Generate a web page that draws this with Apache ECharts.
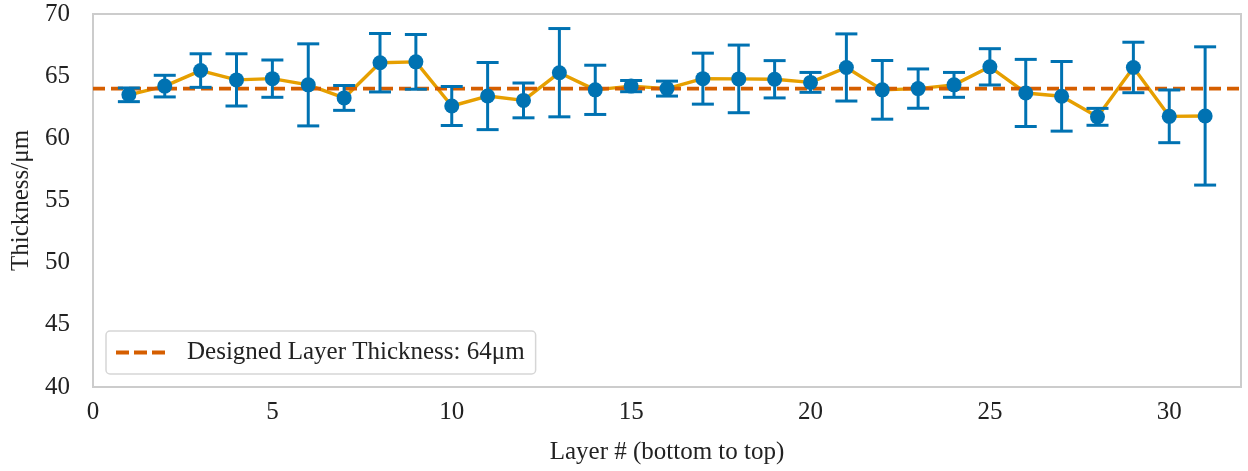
<!DOCTYPE html>
<html>
<head>
<meta charset="utf-8">
<script src="https://cdn.jsdelivr.net/npm/echarts@6/dist/echarts.min.js"></script>
<style>
html,body{margin:0;padding:0;background:#fff;}
#chart{width:1248px;height:471px;}
</style>
</head>
<body>
<div id="chart"></div>
<script>
const layers = [1,2,3,4,5,6,7,8,9,10,11,12,13,14,15,16,17,18,19,20,21,22,23,24,25,26,27,28,29,30,31];
const meanThickness = [63.5,64.2,65.45,64.7,64.8,64.3,63.25,66.08,66.15,62.6,63.4,63.05,65.28,63.9,64.2,64.0,64.8,64.78,64.75,64.5,65.7,63.9,64.0,64.3,65.75,63.65,63.38,61.73,65.7,61.77,61.8];
const errThickness = [0.55,0.87,1.35,2.1,1.5,3.3,1.0,2.35,2.2,1.57,2.7,1.4,3.55,1.98,0.45,0.6,2.05,2.72,1.5,0.8,2.7,2.36,1.58,1.0,1.46,2.7,2.8,0.68,2.03,2.12,5.56];
const designedThickness = 64;
const legendLabel = 'Designed Layer Thickness: 64μm';
const xTicks = [0,5,10,15,20,25,30];
const yTicks = [40,45,50,55,60,65,70];

const meanData = layers.map((x,i)=>[x, meanThickness[i]]);
const errData = layers.map((x,i)=>[x, meanThickness[i]-errThickness[i], meanThickness[i]+errThickness[i]]);

const FONT = '"Liberation Serif", "DejaVu Serif", serif';
const TXT = '#222222';
const BLUE = '#0072B2';
const ORANGE = '#E69F00';
const VERM = '#D55E00';

const chart = echarts.init(document.getElementById('chart'), null, {renderer:'canvas'});
chart.setOption({
  backgroundColor:'#fff',
  animation:false,
  textStyle:{fontFamily:FONT},
  grid:{left:93,right:7,top:14,bottom:84,show:true,borderColor:'#cccccc',borderWidth:2,backgroundColor:'#fff'},
  legend:{
    show:true,
    data:[{name:legendLabel, icon:'path://M0,0h13v4h-13z M18,0h13v4h-13z M36,0h13v4h-13z'}],
    left:106, top:331,
    padding:[9,11,9,10],
    itemWidth:49, itemHeight:4, itemGap:10,
    backgroundColor:'#fff',
    borderColor:'#d6d6d6', borderWidth:1.5, borderRadius:4,
    textStyle:{fontFamily:FONT,fontSize:25,color:TXT,padding:[0,0,0,17]},
    itemStyle:{color:VERM}
  },
  xAxis:{
    type:'value', min:0, max:32, interval:5,
    axisLine:{show:false}, axisTick:{show:false}, splitLine:{show:false},
    axisLabel:{fontFamily:FONT,fontSize:25,color:TXT,margin:13,showMaxLabel:false,
      formatter:v=> xTicks.indexOf(v)>=0 ? String(v) : ''},
    name:'Layer # (bottom to top)', nameLocation:'middle', nameGap:53,
    nameTextStyle:{fontFamily:FONT,fontSize:25,color:TXT}
  },
  yAxis:{
    type:'value', min:40, max:70, interval:5,
    axisLine:{show:false}, axisTick:{show:false}, splitLine:{show:false},
    axisLabel:{fontFamily:FONT,fontSize:25,color:TXT,margin:23,
      formatter:v=> yTicks.indexOf(v)>=0 ? String(v) : ''},
    name:'Thickness/μm', nameLocation:'middle', nameGap:53,
    nameTextStyle:{fontFamily:FONT,fontSize:25,color:TXT}
  },
  series:[
    {
      name:'mean-line', type:'line', data:meanData, showSymbol:false, symbol:'none',
      lineStyle:{color:ORANGE,width:3.4}, z:2, silent:true
    },
    {
      name:legendLabel, type:'line', data:[[0,designedThickness],[32,designedThickness]],
      symbol:'none', showSymbol:false,
      lineStyle:{color:VERM,width:3.7,type:[12,6]}, itemStyle:{color:VERM}, z:3, silent:true
    },
    {
      name:'err', type:'custom', data:errData, z:4, silent:true,
      renderItem:function(params, api){
        const x = api.value(0);
        const lo = api.coord([x, api.value(1)]);
        const hi = api.coord([x, api.value(2)]);
        const cap = 11;
        const st = {stroke:BLUE, lineWidth:3};
        return {type:'group', children:[
          {type:'line', shape:{x1:lo[0],y1:lo[1],x2:hi[0],y2:hi[1]}, style:st},
          {type:'line', shape:{x1:lo[0]-cap,y1:lo[1],x2:lo[0]+cap,y2:lo[1]}, style:st},
          {type:'line', shape:{x1:hi[0]-cap,y1:hi[1],x2:hi[0]+cap,y2:hi[1]}, style:st}
        ]};
      }
    },
    {
      name:'mean', type:'scatter', data:meanData, symbol:'circle', symbolSize:15,
      itemStyle:{color:BLUE,opacity:1}, z:5, silent:true
    }
  ]
});
</script>
</body>
</html>
